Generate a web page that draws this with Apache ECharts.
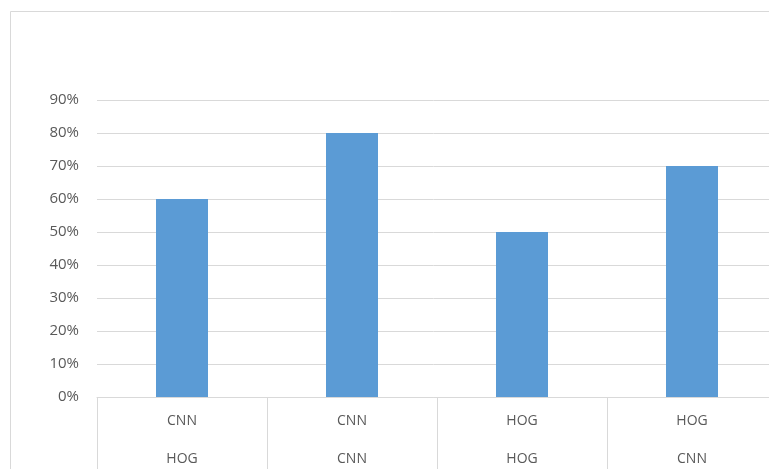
<!DOCTYPE html>
<html>
<head>
<meta charset="utf-8">
<style>
  html, body { margin: 0; padding: 0; background: #fff; }
  #chart { width: 769px; height: 469px; }
</style>
<script src="https://cdn.jsdelivr.net/npm/echarts@6/dist/echarts.min.js"></script>
</head>
<body>
<div id="chart"></div>
<script>
// Two-level category labels: method (top row) and feature (bottom row)
var topLabels = ['CNN', 'CNN', 'HOG', 'HOG'];
var bottomLabels = ['HOG', 'CNN', 'HOG', 'CNN'];
var accuracy = [60, 80, 50, 70];
var yTicks = [0, 10, 20, 30, 40, 50, 60, 70, 80, 90];

var categories = topLabels.map(function (t, i) { return t + '\n' + bottomLabels[i]; });

var chart = echarts.init(document.getElementById('chart'), null, { renderer: 'canvas' });
var textColor = '#595959';
var lineColor = '#d9d9d9';
var fontFamily = '"Open Sans", "Noto Sans", sans-serif';

chart.setOption({
  animation: false,
  backgroundColor: '#fff',
  graphic: [{
    type: 'rect',
    shape: { x: 10.5, y: 11.5, width: 800, height: 500 },
    style: { fill: 'none', stroke: lineColor, lineWidth: 1 },
    silent: true
  }],
  grid: { left: 97, top: 100, width: 680, height: 297, outerBoundsMode: 'none', containLabel: false },
  xAxis: {
    type: 'category',
    data: categories,
    axisLine: { show: true, lineStyle: { color: lineColor, width: 1 } },
    axisTick: { show: true, length: 80, alignWithLabel: false, lineStyle: { color: lineColor } },
    axisLabel: {
      color: textColor,
      fontFamily: fontFamily,
      fontSize: 14,
      margin: 5,
      lineHeight: 38
    }
  },
  yAxis: {
    type: 'value',
    min: yTicks[0],
    max: yTicks[yTicks.length - 1],
    interval: 10,
    axisLine: { show: false },
    axisTick: { show: false },
    splitLine: { lineStyle: { color: lineColor, width: 1 } },
    axisLabel: {
      color: textColor,
      fontFamily: fontFamily,
      fontSize: 15,
      margin: 18,
      formatter: function (v) { return v + '%'; }
    }
  },
  series: [{
    type: 'bar',
    data: accuracy,
    barWidth: 52,
    itemStyle: { color: '#5B9BD5' }
  }]
});
</script>
</body>
</html>
